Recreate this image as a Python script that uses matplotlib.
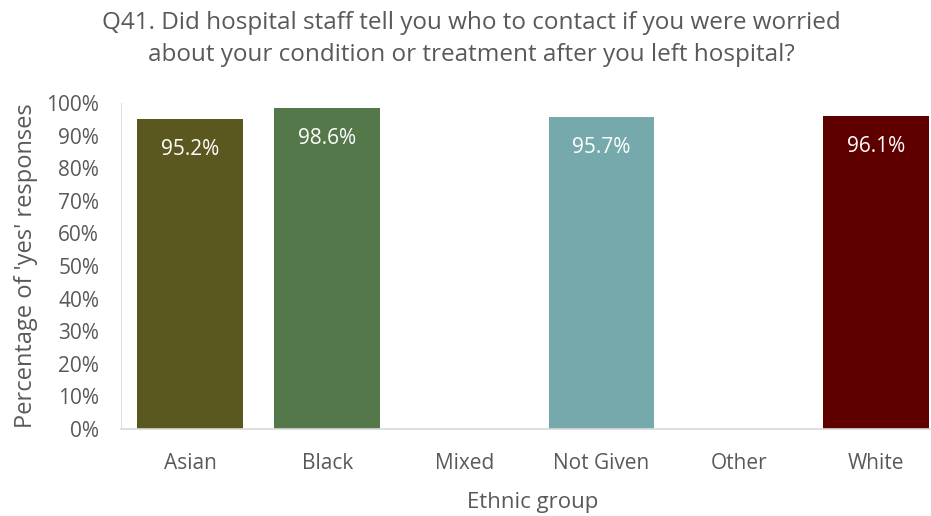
import matplotlib
matplotlib.use("Agg")
import matplotlib.pyplot as plt
from matplotlib.ticker import PercentFormatter, MultipleLocator

plt.rcParams['font.family'] = ['Open Sans', 'DejaVu Sans']

# Share of 'yes' responses by ethnic group (None = no bar shown)
groups = ["Asian", "Black", "Mixed", "Not Given", "Other", "White"]
yes_pct = [95.2, 98.6, None, 95.7, None, 96.1]
bar_colors = ["#5A581E", "#55784B", "#FFFFFF", "#76A9AB", "#FFFFFF", "#5E0000"]

title = ("Q41. Did hospital staff tell you who to contact if you were worried\n"
         "about your condition or treatment after you left hospital?")

fig = plt.figure(figsize=(9.31, 5.16), dpi=100)
ax = fig.add_axes([0.1304, 0.1686, 0.884, 0.6318])

grey = "#595959"
x = list(range(len(groups)))
for i, (val, col) in enumerate(zip(yes_pct, bar_colors)):
    if val is None:
        continue
    ax.bar(i, val, width=0.772, color=col, zorder=2)
    ax.annotate(f"{val:.1f}%", (i, val), xytext=(0, -22), textcoords="offset points",
                ha="center", va="center", color="white", fontsize=15)

ax.set_xlim(-0.5, len(groups) - 0.5)
ax.set_ylim(0, 100)
ax.yaxis.set_major_locator(MultipleLocator(10))
ax.yaxis.set_major_formatter(PercentFormatter(decimals=0))
ax.set_xticks(x)
ax.set_xticklabels(groups)

for side in ["top", "right", "left"]:
    ax.spines[side].set_visible(False)
ax.spines["bottom"].set_color("#D9D9D9")
ax.spines["bottom"].set_linewidth(1.2)
ax.axvline(-0.5, color="#D9D9D9", lw=1.2, zorder=1)

ax.tick_params(axis="both", length=0, colors=grey, labelsize=15)
ax.tick_params(axis="x", pad=17)
ax.tick_params(axis="y", pad=16)

ax.set_xlabel("Ethnic group", color=grey, fontsize=16, labelpad=13)
ax.set_ylabel("Percentage of 'yes' responses", color=grey, fontsize=17, labelpad=6)
fig.text(0.506, 0.978, title, ha="center", va="top", color=grey, fontsize=17.5,
         linespacing=1.45)

fig.savefig("out.png", dpi=100)
